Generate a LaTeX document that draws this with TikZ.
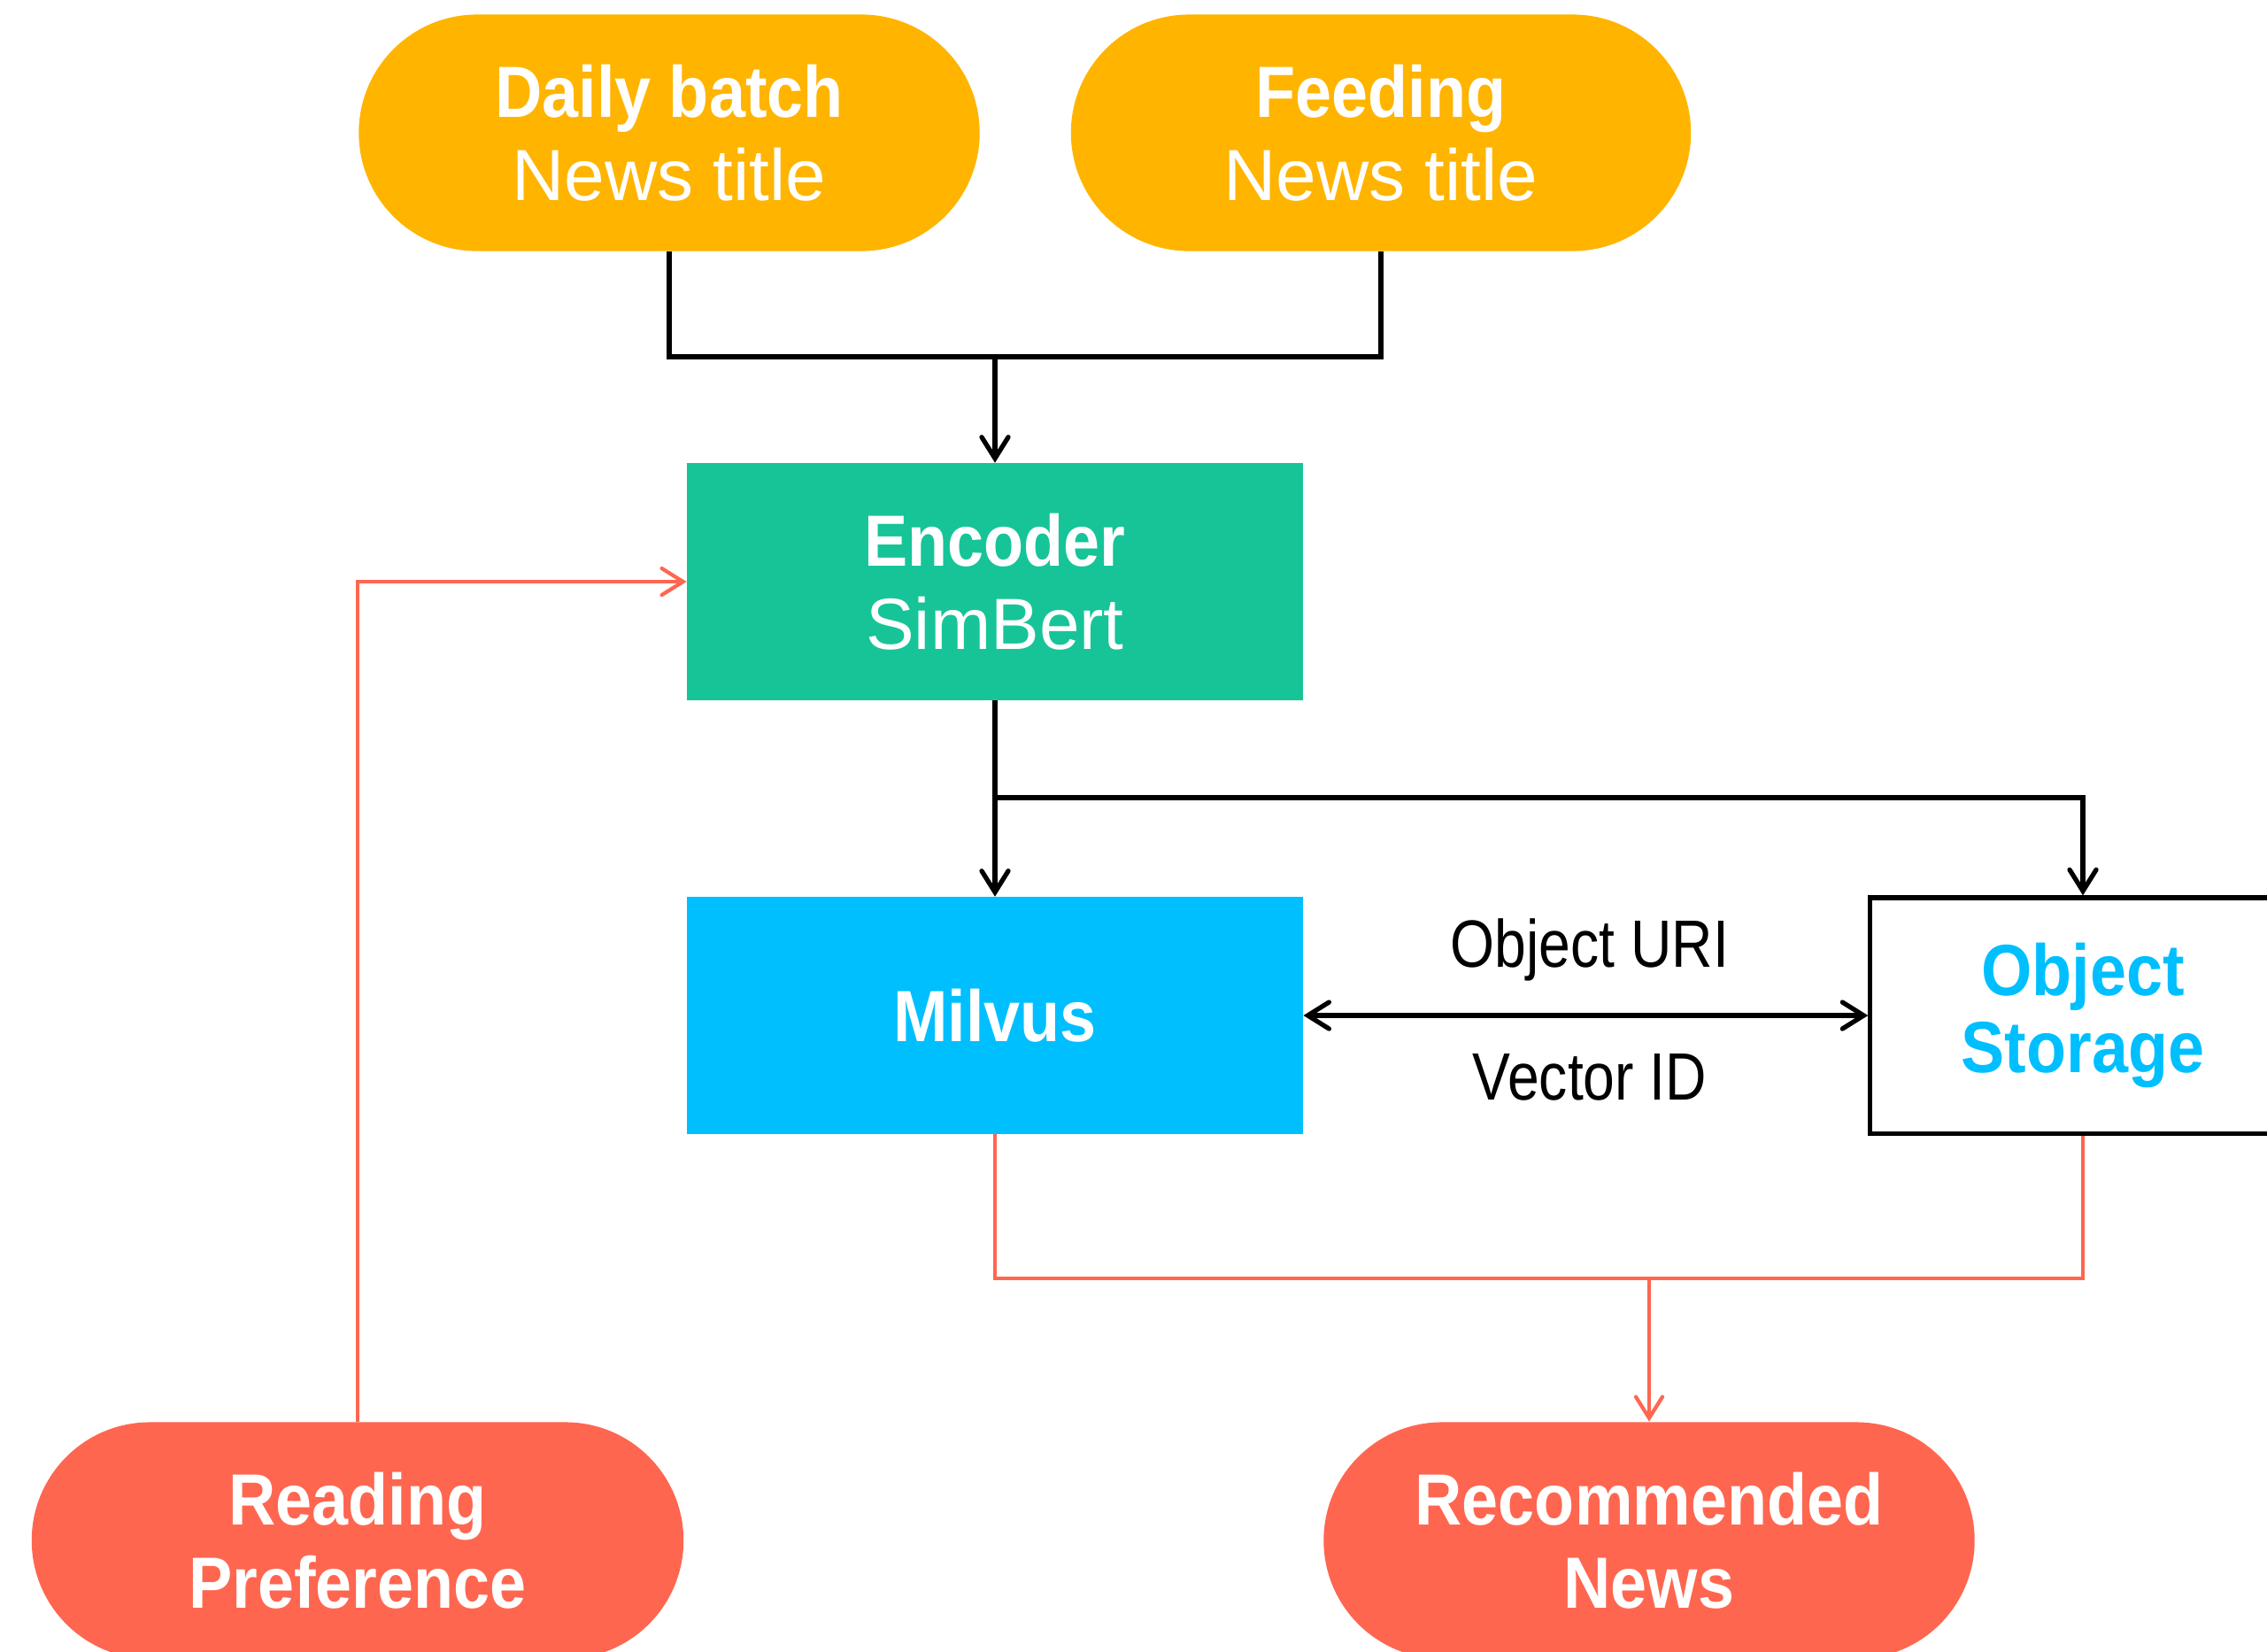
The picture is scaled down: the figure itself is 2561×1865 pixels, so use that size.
\documentclass[tikz,border=0pt]{standalone}
\usepackage{fontspec}
\setmainfont{Liberation Sans}[BoldFeatures={FakeStretch=0.9}]
\newfontfamily\lblfont{Liberation Sans}[FakeStretch=0.85]
\usetikzlibrary{arrows.meta}
\definecolor{cOrange}{HTML}{FFB400}
\definecolor{cGreen}{HTML}{16C498}
\definecolor{cBlue}{HTML}{00BFFF}
\definecolor{cRed}{HTML}{FF6650}
\tikzset{
  pill/.style={rounded corners=1.335cm, minimum height=2.67cm, inner sep=0pt,
    text=white, align=center, font=\fontsize{23.3}{26.7}\selectfont},
  boxnode/.style={minimum height=2.67cm, minimum width=6.95cm, inner sep=0pt,
    text=white, align=center, font=\fontsize{23.3}{26.7}\selectfont},
  conn/.style={line width=1.5pt, draw=black},
  rconn/.style={line width=1.2pt, draw=cRed},
  barb/.tip={Straight Barb[length=0.24cm,width=0.3cm,line cap=round]},
  tip/.style={-barb},
  lbl/.style={font=\lblfont\fontsize{21.5}{24}\selectfont, text=black}
}
\begin{document}
\begin{tikzpicture}[x=0.01cm,y=-0.01cm]
\useasboundingbox (0,0) rectangle (2561,1865);
% nodes
\node[pill, fill=cOrange, minimum width=7.01cm] (daily) at (756,150) {\textbf{Daily batch}\\News title};
\node[pill, fill=cOrange, minimum width=7.0cm] (feed) at (1560,150) {\textbf{Feeding}\\News title};
\node[boxnode, fill=cGreen] (enc) at (1124,657) {\textbf{Encoder}\\SimBert};
\node[boxnode, fill=cBlue] (mil) at (1124,1147) {\textbf{Milvus}};
\node[draw=black, line width=1.45pt, minimum width=4.80cm, minimum height=2.66cm, inner sep=0pt,
  text=cBlue, align=center, font=\fontsize{23.3}{24.7}\selectfont] (os) at (2353,1147) {\textbf{Object}\\\textbf{Storage}};
\node[pill, fill=cRed, minimum width=7.36cm] (read) at (404,1740) {\textbf{Reading}\\\textbf{Preference}};
\node[pill, fill=cRed, minimum width=7.35cm] (rec) at (1863,1740) {\textbf{Recommended}\\\textbf{News}};
\node[lbl] (uri) at (1796,1073) {Object URI};
\node[lbl] (vid) at (1796,1217) {Vector ID};
% junction coordinates
\coordinate (jtop) at (1124,403);
\coordinate (jmid) at (1124,901);
\coordinate (jbot) at (1863,1444);
% black connectors
\draw[conn] (daily.south) |- (jtop) -| (feed.south);
\draw[conn, tip] (jtop) -- (enc.north);
\draw[conn, tip] (enc.south) -- (mil.north);
\draw[conn, tip] (jmid) -| (os.north);
\draw[conn, barb-barb] (mil.east) -- (os.west);
% red connectors
\draw[rconn, tip] (read.north) |- (enc.west);
\draw[rconn] (mil.south) |- (jbot) -| (os.south);
\draw[rconn, tip] (jbot) -- (rec.north);
\end{tikzpicture}
\end{document}
